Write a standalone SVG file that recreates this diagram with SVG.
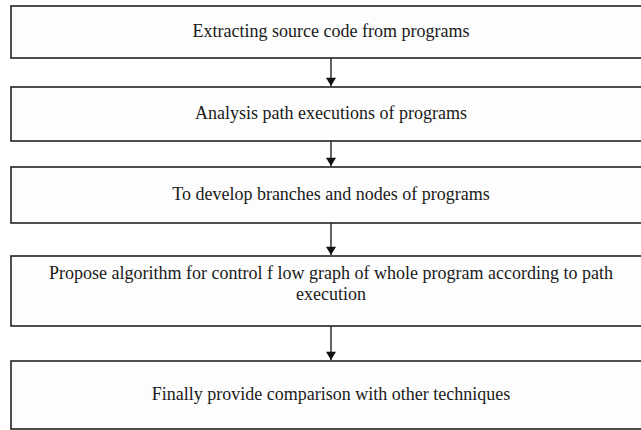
<svg xmlns="http://www.w3.org/2000/svg" width="641" height="430" viewBox="0 0 641 430">
<defs>
<style>
.box{fill:#fdfdfd;stroke:#222;stroke-width:1.6}
.lbl{font-family:"Liberation Serif","Times New Roman",serif;font-size:18px;fill:#1a1a1a;text-anchor:middle}
.edge{stroke:#222;stroke-width:1.4;fill:none}
</style>
<marker id="ah" viewBox="0 0 10 12" refX="10" refY="6" markerWidth="12" markerHeight="10" markerUnits="userSpaceOnUse" orient="auto">
<path d="M0,0 L10,6 L0,12 Z" fill="#111"/>
</marker>
</defs>
<rect width="641" height="430" fill="#fff"/>
<g id="node1"><rect class="box" x="11" y="6" width="645" height="52"/><text class="lbl" x="331" y="37">Extracting source code from programs</text></g>
<g id="node2"><rect class="box" x="11" y="87" width="645" height="54"/><text class="lbl" x="331" y="119">Analysis path executions of programs</text></g>
<g id="node3"><rect class="box" x="11" y="167" width="645" height="56"/><text class="lbl" x="331" y="200">To develop branches and nodes of programs</text></g>
<g id="node4"><rect class="box" x="11" y="256" width="645" height="70"/><text class="lbl" x="331" y="279">Propose algorithm for control f low graph of whole program according to path</text><text class="lbl" x="331" y="300">execution</text></g>
<g id="node5"><rect class="box" x="11" y="361" width="645" height="68"/><text class="lbl" x="331" y="400">Finally provide comparison with other techniques</text></g>
<g id="connectors">
<line class="edge" x1="331" y1="58" x2="331" y2="86" marker-end="url(#ah)"/>
<line class="edge" x1="331" y1="141" x2="331" y2="166" marker-end="url(#ah)"/>
<line class="edge" x1="331" y1="223" x2="331" y2="255" marker-end="url(#ah)"/>
<line class="edge" x1="331" y1="326" x2="331" y2="360" marker-end="url(#ah)"/>
</g>
</svg>
